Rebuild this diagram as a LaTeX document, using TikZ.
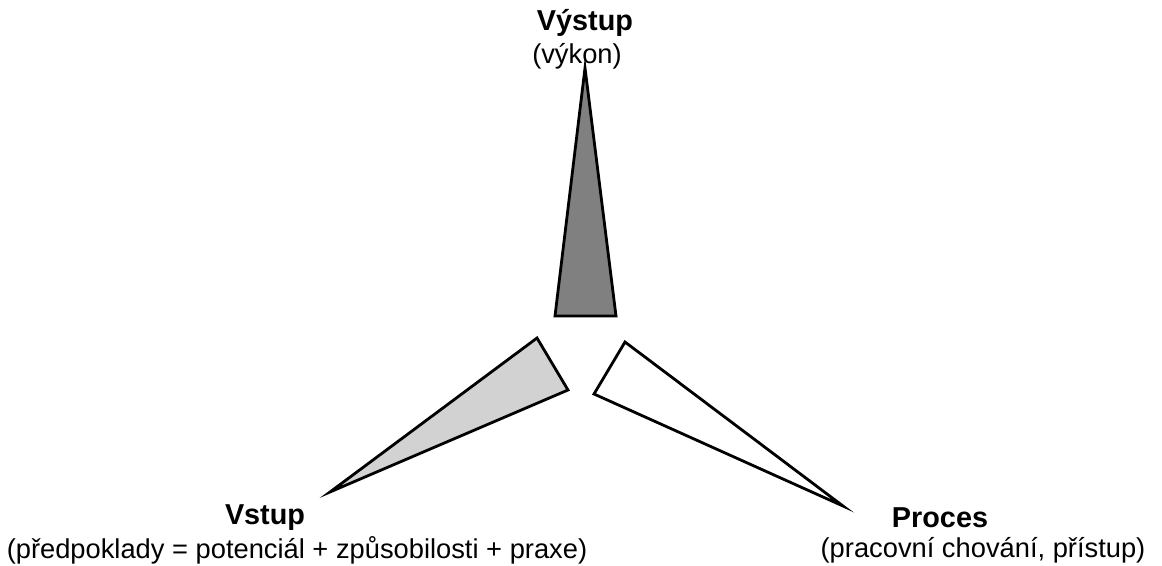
\documentclass[tikz,border=0pt]{standalone}
\usepackage{fontspec}
\setmainfont{Liberation Sans}
\begin{document}
\begin{tikzpicture}[x=1pt,y=-1pt,
  wedge/.style={draw=black,line width=2.8pt,line join=miter},
  title/.style={font=\fontsize{28.8}{31}\selectfont\bfseries,inner sep=0pt,anchor=center},
  note/.style={font=\fontsize{27.3}{30}\selectfont,inner sep=0pt,anchor=center}]
\definecolor{darkwedge}{RGB}{128,128,128}
\definecolor{lightwedge}{RGB}{210,210,210}
\useasboundingbox (0,0) rectangle (1162,565);
% output wedge (top)
\coordinate (oA) at (585,68);
\coordinate (oB) at (555,316);
\coordinate (oC) at (616,316);
\filldraw[wedge,fill=darkwedge] (oA) -- (oB) -- (oC) -- cycle;
% input wedge (lower left)
\coordinate (iA) at (330,492);
\coordinate (iB) at (537,338);
\coordinate (iC) at (568,390);
\filldraw[wedge,fill=lightwedge] (iA) -- (iB) -- (iC) -- cycle;
% process wedge (lower right)
\coordinate (pA) at (843,506);
\coordinate (pB) at (625,342);
\coordinate (pC) at (594,394);
\filldraw[wedge,fill=white] (pA) -- (pB) -- (pC) -- cycle;
% labels
\node[title] (out) at (585,23) {Výstup};
\node[note] (outsub) at (577,56) {(výkon)};
\node[title] (in) at (265,518) {Vstup};
\node[note] (insub) at (297,550) {(předpoklady = potenciál + způsobilosti + praxe)};
\node[title] (pr) at (940,518) {Proces};
\node[note] (prsub) at (983,550) {(pracovní chování, přístup)};
\end{tikzpicture}
\end{document}
